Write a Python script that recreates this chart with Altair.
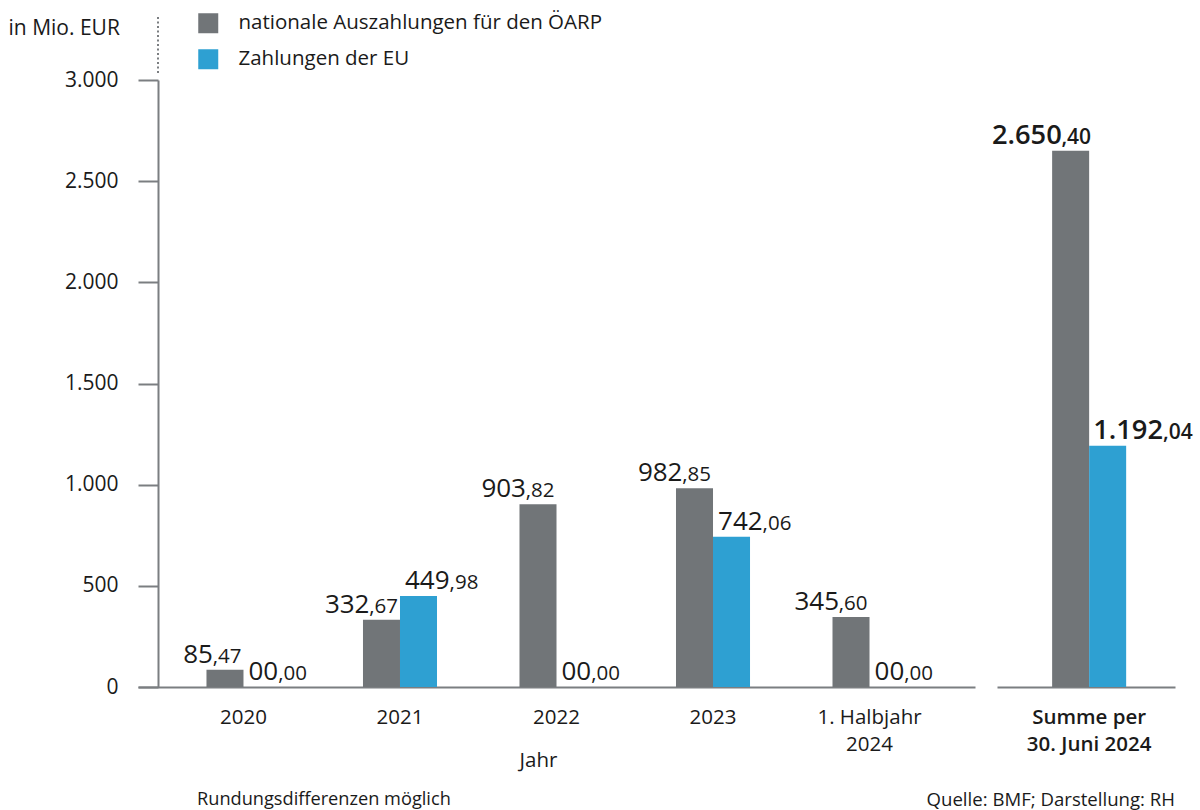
import altair as alt
import pandas as pd

# ---------------- data ----------------
categories = ["2020", "2021", "2022", "2023", "1. Halbjahr 2024"]
series = ["nationale Auszahlungen für den ÖARP", "Zahlungen der EU"]
national = [85.47, 332.67, 903.82, 982.85, 345.60]
eu = [0.00, 449.98, 0.00, 742.06, 0.00]
sum_category_lines = ["Summe per", "30. Juni 2024"]
sum_national = [2650.40]
sum_eu = [1192.04]
y_ticks = [0, 500, 1000, 1500, 2000, 2500, 3000]
colors = ["#717578", "#2EA0D2"]

y_title = "in Mio. EUR"
x_title = "Jahr"
note_left = "Rundungsdifferenzen möglich"
note_right = "Quelle: BMF; Darstellung: RH"

FONT = "Open Sans"
TXT = "#1a1a1a"
AXC = "#7b7e81"
AX_FS = 20.5
BIG = 26
SMALL = 20.5


def split_de(v):
    s = f"{v:,.2f}"
    ip, dp = s.split(".")
    ip = ip.replace(",", ".")
    if len(ip) < 2:
        ip = ip.zfill(2)
    return ip, "," + dp


def build(cats, a, b):
    rows = []
    for c, va, vb in zip(cats, a, b):
        for s, v in ((series[0], va), (series[1], vb)):
            ip, dp = split_de(v)
            rows.append({"cat": c, "series": s, "value": v, "ip": ip, "dp": dp})
    return pd.DataFrame(rows)


df = build(categories, national, eu)
sum_cat = " ".join(sum_category_lines)
df_sum = build([sum_cat], sum_national, sum_eu)

color_scale = alt.Scale(domain=series, range=colors)
y_scale = alt.Scale(domain=[0, 3000], nice=False)
off_scale = alt.Scale(domain=series, paddingInner=0, paddingOuter=0)

# ---------------- left panel ----------------
x_left = alt.X(
    "cat:N", sort=categories, title=x_title,
    scale=alt.Scale(paddingInner=0.527, paddingOuter=0.4375),
    axis=alt.Axis(
        labelAngle=0, ticks=False, domainColor=AXC, domainWidth=2,
        labelFontSize=AX_FS, labelColor=TXT, labelFont=FONT, labelPadding=20,
        labelLineHeight=27,
        labelExpr="length(datum.label) > 4 ? [substring(datum.label, 0, lastindexof(datum.label, ' ')), substring(datum.label, lastindexof(datum.label, ' ') + 1)] : datum.label",
        titleFontSize=AX_FS, titleFontWeight="normal", titleColor=TXT, titleFont=FONT,
        titleX=400, titleY=73, titleBaseline="middle",
    ),
)
y_left = alt.Y(
    "value:Q", scale=y_scale, title=y_title,
    axis=alt.Axis(
        values=y_ticks, grid=False, offset=-20, tickSize=20, tickWidth=2,
        tickColor=AXC, domainColor=AXC, domainWidth=2, labelPadding=20,
        labelFontSize=21, labelColor=TXT, labelFont=FONT,
        labelExpr="replace(format(datum.value, ',.0f'), ',', '.')",
        titleAngle=0, titleAlign="left", titleBaseline="middle",
        titleX=-150, titleY=-52, titleFontSize=21, titleFontWeight="normal",
        titleColor=TXT, titleFont=FONT,
    ),
)
xo = alt.XOffset("series:N", scale=off_scale, sort=series)

base_l = alt.Chart(df)
bars_l = base_l.mark_bar().encode(
    x=x_left, y=y_left, xOffset=xo,
    color=alt.Color(
        "series:N", scale=color_scale, sort=series,
        legend=alt.Legend(
            orient="none", legendX=60, legendY=-67, title=None,
            symbolType="square", symbolSize=400, symbolStrokeWidth=0,
            symbolOpacity=1, labelFontSize=AX_FS, labelFont=FONT, labelColor=TXT,
            labelOffset=20, rowPadding=15, labelLimit=600,
        ),
    ),
)


def lbl(data, flt, field, align, dx, size, weight="normal", xenc=None, yenc=None):
    return alt.Chart(data).transform_filter(flt).mark_text(
        align=align, baseline="alphabetic", dx=dx, dy=-7, fontSize=size,
        font=FONT, color=TXT, fontWeight=weight,
    ).encode(x=xenc, y=yenc, xOffset=xo, text=f"{field}:N")


xs = alt.X("cat:N", sort=categories)
ys = alt.Y("value:Q", scale=y_scale)
g = f"datum.series == '{series[0]}'"
bl = f"datum.series == '{series[1]}'"

labels_l = [
    lbl(df, g, "ip", "right", -12, BIG, xenc=xs, yenc=ys),
    lbl(df, g, "dp", "right", 16.5, SMALL, xenc=xs, yenc=ys),
    lbl(df, bl, "ip", "left", -13.5, BIG, xenc=xs, yenc=ys),
    lbl(df, bl + " && length(datum.ip) == 2", "dp", "left", 16.2, SMALL, xenc=xs, yenc=ys),
    lbl(df, bl + " && length(datum.ip) == 3", "dp", "left", 31.1, SMALL, xenc=xs, yenc=ys),
]

dots = alt.Chart(pd.DataFrame({"a": [0]})).mark_rule(
    strokeDash=[2, 2.5], strokeWidth=2, color=AXC
).encode(x=alt.value(20), y=alt.value(-7), y2=alt.value(-63))

note_l = alt.Chart(pd.DataFrame({"t": [note_left]})).mark_text(
    align="left", baseline="middle", fontSize=18.2, font=FONT, color=TXT
).encode(text="t:N", x=alt.value(59), y=alt.value(720))

left = alt.layer(bars_l, *labels_l, dots, note_l).properties(width=837, height=607)

# ---------------- right panel ----------------
x_right = alt.X(
    "cat:N", title=None,
    scale=alt.Scale(paddingInner=0, paddingOuter=0.703, align=0.53),
    axis=alt.Axis(
        labelAngle=0, ticks=False, domainColor=AXC, domainWidth=2,
        labelFontSize=AX_FS, labelColor=TXT, labelFont=FONT, labelPadding=20,
        labelFontWeight=600, labelLineHeight=27,
        labelExpr=str(sum_category_lines),
    ),
)
y_right = alt.Y("value:Q", scale=y_scale, axis=None)
bars_r = alt.Chart(df_sum).mark_bar().encode(
    x=x_right, y=y_right, xOffset=xo,
    color=alt.Color("series:N", scale=color_scale, legend=None),
)
xs_r = alt.X("cat:N")
labels_r = [
    lbl(df_sum, g, "ip", "right", -8.8, 27.3, 600, xs_r, ys),
    lbl(df_sum, g, "dp", "right", 20.5, 21, 600, xs_r, ys),
    lbl(df_sum, bl, "ip", "left", -14.5, 27.3, 600, xs_r, ys),
    lbl(df_sum, bl, "dp", "left", 55.3, 21, 600, xs_r, ys),
]
note_r = alt.Chart(pd.DataFrame({"t": [note_right]})).mark_text(
    align="right", baseline="middle", fontSize=18.6, font=FONT, color=TXT
).encode(text="t:N", x=alt.value(178), y=alt.value(720))

right = alt.layer(bars_r, *labels_r, note_r).properties(width=178, height=607)

chart = alt.hconcat(left, right, spacing=22, bounds="flush").resolve_legend(
    color="independent"
).resolve_scale(color="shared").properties(
    padding={"left": 8, "top": 13, "right": 5, "bottom": 5}
).configure(
    font=FONT, view=alt.ViewConfig(stroke=None, strokeWidth=0)
)

chart.save("out.html", embed_options={"renderer": "svg", "actions": False})
